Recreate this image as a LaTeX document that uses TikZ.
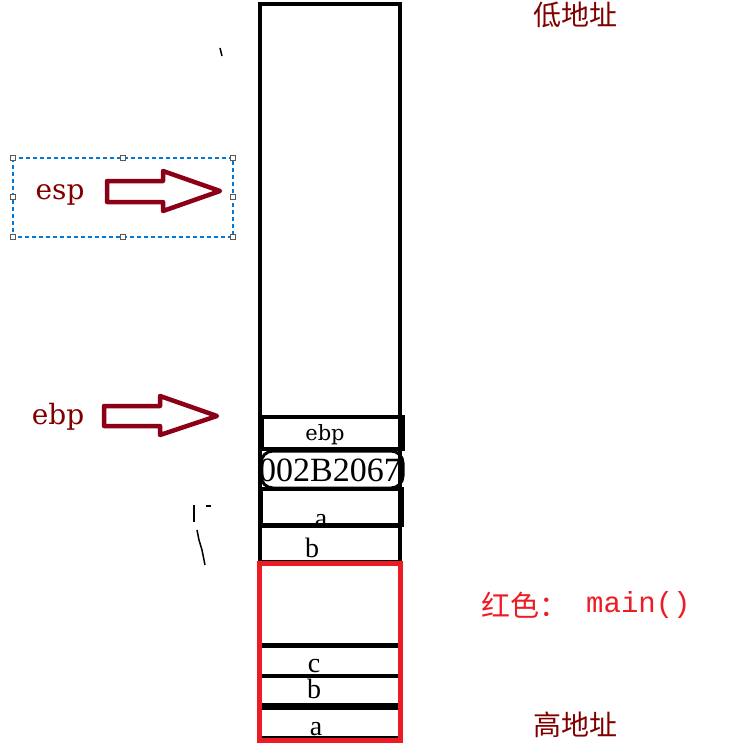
\documentclass[tikz,border=0pt]{standalone}
\usepackage{fontspec}
\setmainfont{Liberation Serif}
\newfontfamily\djs{DejaVu Serif}
\newfontfamily\lmono{Liberation Mono}
\newfontfamily\cjk{Noto Sans CJK SC}
\definecolor{dred}{HTML}{8B0016}
\definecolor{tred}{HTML}{800000}
\definecolor{bred}{HTML}{ED1C24}
\definecolor{selblue}{HTML}{0078D7}
\tikzset{
  cell/.style={draw=black, line width=4pt},
  blockarrow/.style={draw=dred, line width=4.5pt, line join=round, fill=white},
  handle/.style={draw=black!65, fill=white, line width=0.8pt, minimum size=5pt, inner sep=0pt, rectangle},
  celltext/.style={inner sep=0pt, anchor=base},
  stray/.style={draw=black, line width=1.5pt},
}
\begin{document}
\begin{tikzpicture}[x=1pt,y=-1pt]
\useasboundingbox (0,0) rectangle (736,754);
% main column
\draw[cell] (260,4) rectangle (400,562);
\draw[cell] (262,416.5) rectangle (403,449);
\draw[black, line width=3pt, rounded corners=12pt] (261,451) rectangle (403,488);
\draw[cell] (261,489) rectangle (402,525);
\draw[cell] (260,526) rectangle (400,562);
% red main() frame
\draw[black, line width=5pt] (262,645) -- (399,645);
\draw[black, line width=4pt] (262,676) -- (399,676);
\draw[black, line width=7pt] (262,706) -- (399,706);
\draw[black, line width=3pt] (262,737) -- (399,737);
\draw[bred, line width=4.5pt] (259.5,563.5) rectangle (400.5,740.5);
% cell texts
\node[celltext] (tebp) at (325,440) {\djs\fontsize{21}{22}\selectfont ebp};
\begin{scope}
\clip (262,452) rectangle (402,487);
\node[celltext] (taddr) at (330,481) {\fontsize{34}{36}\selectfont 002B2067};
\end{scope}
\node[celltext] (ta1) at (321,527) {\fontsize{28}{30}\selectfont a};
\node[celltext] (tb1) at (312,557) {\fontsize{28}{30}\selectfont b};
\node[celltext] (tc) at (314,672) {\fontsize{28}{30}\selectfont c};
\node[celltext] (tb2) at (314,698) {\fontsize{28}{30}\selectfont b};
\node[celltext] (ta2) at (316,735) {\fontsize{28}{30}\selectfont a};
% labels
\node[text=tred, inner sep=0pt] (low) at (575,15) {\cjk\fontsize{28}{30}\selectfont 低地址};
\node[text=tred, inner sep=0pt] (high) at (575,725) {\cjk\fontsize{28}{30}\selectfont 高地址};
\node[text=bred, anchor=west, inner sep=0pt] (redcjk) at (481,605) {\cjk\fontsize{29}{30}\selectfont 红色：};
\node[text=bred, anchor=west, inner sep=0pt] (redmain) at (586,605) {\lmono\fontsize{29}{30}\selectfont main()};
% esp selection box
\draw[selblue, dash pattern=on 4pt off 3pt, line width=1.3pt] (13,158) rectangle (233,237);
\foreach \n/\p in {h1/{(13,158)},h2/{(123,158)},h3/{(233,158)},h4/{(13,197)},h5/{(233,197)},h6/{(13,237)},h7/{(123,237)},h8/{(233,237)}}
  \node[handle] (\n) at \p {};
\node[text=tred, anchor=base, inner sep=0pt] (esp) at (60,199) {\djs\fontsize{28}{28}\selectfont esp};
\draw[blockarrow] (107,181) -- (163,181) -- (163,171) -- (220,191) -- (163,211) -- (163,202) -- (107,202) -- cycle;
% ebp label & arrow
\node[text=tred, anchor=base, inner sep=0pt] (ebpl) at (58,424) {\djs\fontsize{28}{28}\selectfont ebp};
\draw[blockarrow] (104,406) -- (160,406) -- (160,396) -- (217,416) -- (160,435) -- (160,426) -- (104,426) -- cycle;
% stray marks
\draw[stray] (220,48) -- (222,56);
\draw[stray] (194,505) -- (194,522);
\draw[stray] (206,506) -- (211,506);
\draw[stray] (197,530) -- (199,540) -- (202,550) -- (205,565);
\end{tikzpicture}
\end{document}
